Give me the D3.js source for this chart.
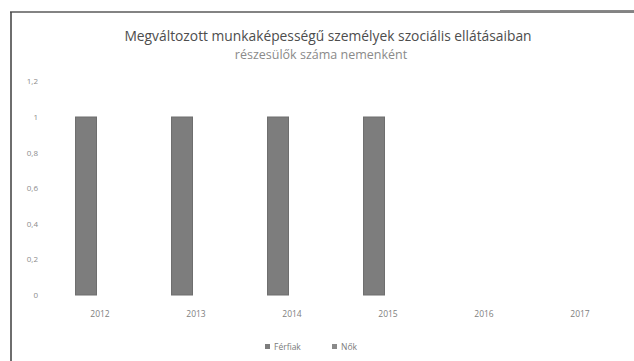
<!DOCTYPE html>
<html>
<head>
<meta charset="utf-8">
<script src="https://cdn.jsdelivr.net/npm/d3@7"></script>
<style>
  html, body { margin: 0; padding: 0; background: #fff; }
  svg { display: block; }
</style>
</head>
<body>
<svg id="chart" width="634" height="361"></svg>
<script>
const titleLines = ["Megváltozott munkaképességű személyek szociális ellátásaiban", "részesülők száma nemenként"];
const years = ["2012", "2013", "2014", "2015", "2016", "2017"];
const seriesNames = ["Férfiak", "Nők"];
const ferfiak = [1, 1, 1, 1, 0, 0];
const nok = [0, 0, 0, 0, 0, 0];
const yTicks = [0, 0.2, 0.4, 0.6, 0.8, 1, 1.2];
const yTickLabels = ["0", "0,2", "0,4", "0,6", "0,8", "1", "1,2"];

const seriesValues = [ferfiak, nok];
const colors = ["#7d7d7d", "#8a8a8a"];

const svg = d3.select("#chart");
const W = 634, H = 361;

// frame
svg.append("line").attr("x1", 10).attr("x2", W).attr("y1", 12).attr("y2", 12)
  .attr("stroke", "#5a5a5a").attr("stroke-width", 1.6);
svg.append("line").attr("x1", 500).attr("x2", W).attr("y1", 10.5).attr("y2", 10.5)
  .attr("stroke", "#888").attr("stroke-width", 1);
svg.append("line").attr("x1", 11).attr("x2", 11).attr("y1", 12).attr("y2", H)
  .attr("stroke", "#4a4a4a").attr("stroke-width", 1.6);

// title
svg.append("text").attr("x", 328).attr("y", 41).attr("text-anchor", "middle")
  .attr("font-family", "'Open Sans', sans-serif").attr("font-size", 13.8)
  .attr("fill", "#4d4d4d").text(titleLines[0]);
svg.append("text").attr("x", 321).attr("y", 59).attr("text-anchor", "middle")
  .attr("font-family", "'Open Sans', sans-serif").attr("font-size", 12.5)
  .attr("fill", "#8a8a8a").text(titleLines[1]);

// scales
const y = d3.scaleLinear().domain([0, 1.2]).range([295, 81.4]);
const x0 = d3.scaleBand().domain(years).range([52, 628]).paddingInner(0.49).paddingOuter(0.245);
const x1 = d3.scaleBand().domain(seriesNames).range([0, x0.bandwidth()]).paddingInner(0.25);

// y axis labels
const yAxis = d3.axisLeft(y).tickValues(yTicks)
  .tickFormat((d, i) => yTickLabels[i]).tickSize(0).tickPadding(0);
const gy = svg.append("g").attr("transform", "translate(38,0)").call(yAxis);
gy.select(".domain").remove();
gy.selectAll("text").attr("font-family", "'Open Sans', sans-serif")
  .attr("font-size", 8).attr("fill", "#8c8c8c");

// bars
const data = [];
years.forEach((yr, i) => seriesNames.forEach((s, j) => data.push({ yr, s, v: seriesValues[j][i], c: colors[j] })));
svg.append("g").selectAll("rect").data(data.filter(d => d.v > 0)).join("rect")
  .attr("x", d => x0(d.yr) + x1(d.s))
  .attr("width", x1.bandwidth())
  .attr("y", d => y(d.v))
  .attr("height", d => y(0) - y(d.v))
  .attr("fill", d => d.c)
  .attr("stroke", "#6e6e6e").attr("stroke-width", 1);

// x axis labels
const xAxis = d3.axisBottom(x0).tickSize(0).tickPadding(0);
const gx = svg.append("g").attr("transform", "translate(0,311)").call(xAxis);
gx.select(".domain").remove();
gx.selectAll("text").attr("font-family", "'Open Sans', sans-serif")
  .attr("font-size", 8.5).attr("fill", "#808080");

// legend
const legend = svg.append("g").attr("transform", "translate(265,347)");
const legX = [0, 67];
seriesNames.forEach((s, j) => {
  const g = legend.append("g").attr("transform", `translate(${legX[j]},0)`);
  g.append("rect").attr("x", 0).attr("y", -3).attr("width", 5).attr("height", 5).attr("fill", colors[j]);
  g.append("text").attr("x", 9).attr("y", 2.5)
    .attr("font-family", "'Open Sans', sans-serif").attr("font-size", 8.5)
    .attr("fill", "#7a7a7a").text(s);
});
</script>
</body>
</html>
